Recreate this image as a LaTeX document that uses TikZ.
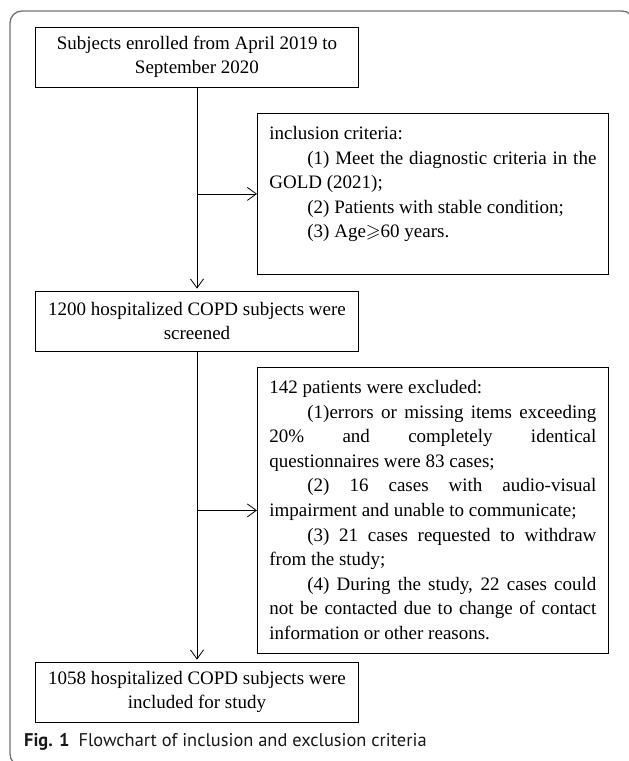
\documentclass[tikz,border=0pt]{standalone}
\usepackage{amssymb}
\usepackage{fontspec}
\setmainfont{Liberation Serif}
\newfontfamily\capfont{PT Sans}
\usetikzlibrary{arrows.meta}
\newcommand\diagfont{\fontsize{19}{24.6}\selectfont}
\newcommand\boxpar{\setlength{\parindent}{38pt}\hyphenpenalty=10000\exhyphenpenalty=10000\tolerance=9999\emergencystretch=20pt}
\begin{document}
\begin{tikzpicture}[x=1pt,y=-1pt,
  box/.style={draw, line width=0.8pt, inner sep=0pt, font=\diagfont},
  centerbox/.style={box, minimum width=323pt, minimum height=60pt, align=center},
  textbox/.style={box, anchor=north west, inner xsep=12pt, inner ysep=0pt},
  arr/.style={draw, line width=0.8pt, -{Straight Barb[length=9pt,width=13pt]}},
  frame/.style={draw=black!55, line width=1.3pt, rounded corners=12pt}]
\useasboundingbox (0,0) rectangle (629,761);
\begin{scope}
  \clip (0,0) rectangle (629,761);
  \draw[frame] (10,11) rectangle (634,766);
\end{scope}

\node[centerbox] (start) at (197,57) {Subjects enrolled from April 2019 to\\September 2020};
\node[centerbox] (scr) at (197,321) {1200 hospitalized COPD subjects were\\screened};
\node[centerbox] (fin) at (197,692) {1058 hospitalized COPD subjects were\\included for study};

\node[textbox] (inc) at (257,113) {\parbox[c][161pt][t]{327pt}{\boxpar\vskip 13pt
\noindent inclusion criteria:\par
(1) Meet the diagnostic criteria in the\linebreak GOLD (2021);\par
(2) Patients with stable condition;\par
(3) Age$\geqslant$60 years.}};

\node[textbox] (exc) at (257,367) {\parbox[c][286pt][t]{327pt}{\boxpar\vskip 13pt
\noindent 142 patients were excluded:\par
(1)errors or missing items exceeding\linebreak 20\% and completely identical\linebreak questionnaires were 83 cases;\par
(2) 16 cases with audio-visual\linebreak impairment and unable to communicate;\par
(3) 21 cases requested to withdraw\linebreak from the study;\par
(4) During the study, 22 cases could\linebreak not be contacted due to change of contact\linebreak information or other reasons.}};

\draw[arr, shorten >=2pt] (start.south) -- (scr.north);
\draw[arr] (start.south |- inc.west) -- (inc.west);
\draw[arr, shorten >=2pt] (scr.south) -- (fin.north);
\draw[arr] (scr.south |- exc.west) -- (exc.west);

\node[anchor=base west, inner sep=0pt, text=black!90, font=\capfont\fontsize{18.4}{20}\selectfont] (cap) at (24,746) {\textbf{Fig. 1}\hspace{9pt}Flowchart of inclusion and exclusion criteria};
\end{tikzpicture}
\end{document}
